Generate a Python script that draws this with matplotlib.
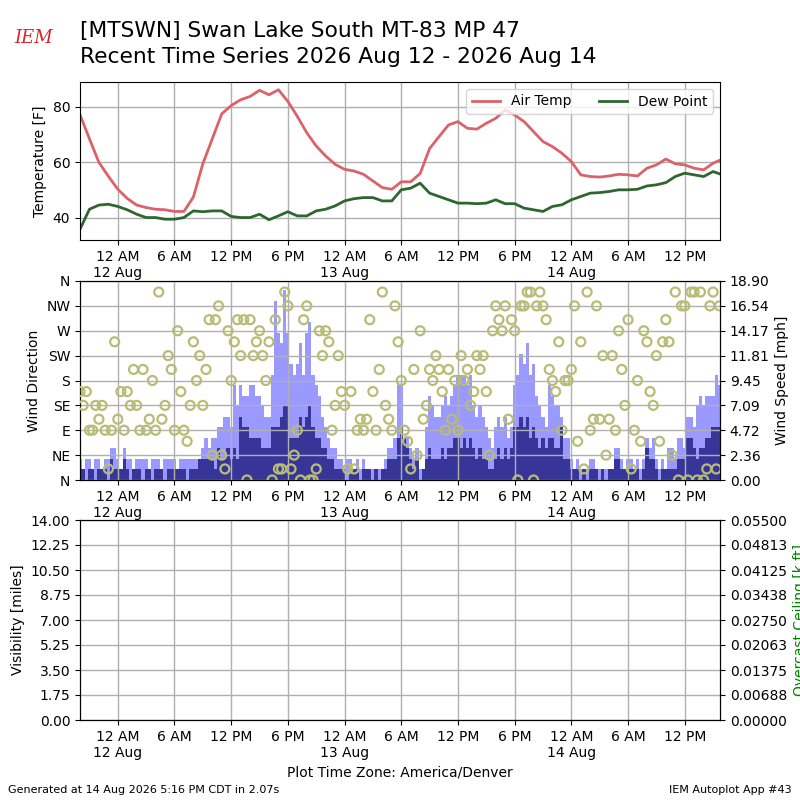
import numpy as np
import pandas as pd
import matplotlib
matplotlib.use("Agg")
import matplotlib.pyplot as plt
import matplotlib.dates as mdates
from matplotlib.ticker import FuncFormatter, FixedLocator, FixedFormatter

# Temperatura cada hora desde 2026-08-11 20:00 (America/Denver)
horas = pd.date_range("2026-08-11 20:00", periods=69, freq="h")
air_temp = [77.2, 68.5, 60.0, 55.0, 50.3, 47.0, 44.6, 43.7, 43.1, 42.9,
            42.3, 42.3, 47.5, 59.5, 68.5, 77.5, 80.5, 82.6, 83.8, 86.0,
            84.4, 86.2, 82.0, 76.6, 70.7, 65.9, 62.3, 59.3, 57.5, 56.9,
            55.7, 53.3, 50.9, 50.3, 53.0, 53.0, 56.0, 65.0, 69.3, 73.5,
            74.7, 72.3, 72.0, 74.1, 75.9, 78.9, 77.1, 74.7, 71.1, 67.5,
            65.7, 63.3, 60.3, 55.5, 54.9, 54.7, 55.1, 55.7, 55.5, 55.1,
            57.9, 59.1, 61.2, 59.5, 59.1, 57.9, 57.3, 59.7, 61.2]
dew_point = [35.9, 43.1, 44.6, 44.9, 44.1, 42.9, 41.3, 40.1, 40.1, 39.5,
             39.5, 40.1, 42.5, 42.2, 42.5, 42.5, 40.5, 40.1, 40.1, 41.3,
             39.3, 40.7, 42.2, 40.7, 40.7, 42.5, 43.1, 44.3, 46.1, 46.9,
             47.3, 47.3, 46.1, 46.1, 50.1, 50.7, 52.5, 48.9, 47.7, 46.5,
             45.3, 45.3, 45.1, 45.3, 46.5, 45.1, 45.1, 43.5, 42.9, 42.3,
             44.1, 44.7, 46.5, 47.7, 48.9, 49.1, 49.5, 50.1, 50.1, 50.3,
             51.5, 51.9, 52.7, 54.9, 56.1, 55.5, 54.9, 56.7, 55.5]

# Viento cada 20 minutos
tiempos = pd.date_range("2026-08-11 20:00", periods=204, freq="20min")
wind_dir = [160, 135, 160, 90, 90, 135, 110, 135, 90, 20,
            90, 250, 110, 160, 90, 160, 135, 200, 135, 90,
            200, 90, 110, 180, 90, 340, 110, 135, 225, 200,
            90, 270, 160, 90, 70, 135, 250, 180, 225, 135,
            200, 290, 45, 290, 315, 45, 20, 270, 180, 250,
            290,
            225, 290, 0, 290, 225, 250, 270, 225, 180, 250,
            0, 290, 20, 20, 340, 315, 20, 45, 90, 0,
            290, 315, 0, 0, 20, 270, 225, 270, 250, 90,
            135, 225, 160, 135, 20, 160, 20, 90, 110, 90,
            110, 290, 160, 90, 200, 340, 135, 110, 90, 315,
            250,
            180, 90, 70, 20, 200, 45, 270, 110, 135, 200,
            180, 225, 200, 160, 90, 200, 110, 180, 90, 225,
            180, 200, 135, 160, 225, 200, 225, 160, 45, 270,
            315, 290, 270, 315, 110, 290, 270, 0, 315, 315,
            340, 340, 0, 315, 340, 315, 290, 200, 180, 160,
            250,
            90, 180, 180, 200, 315, 70, 250, 20, 340, 90,
            110, 315, 110, 225, 45, 110, 225, 90, 270, 200,
            135, 290, 20, 90, 180, 70, 270, 250, 160, 135,
            225, 70, 250, 290, 250, 45, 340, 0, 315, 315,
            0, 340, 340, 0, 340, 0, 20, 315, 340, 20,
            315]
wind_gust = [2, 1, 2, 2, 1, 2, 2, 1, 2, 2, 3, 3, 2, 1, 3, 2, 2, 1, 2, 2,
             2, 2, 1, 2, 2, 2, 1, 2, 2, 2, 2, 1, 2, 2, 2, 2, 2, 2, 2, 3,
             4, 3, 4, 4, 5, 5, 6, 6, 5, 9, 7,
             9, 8, 8, 9, 9, 8, 8, 7, 6, 6, 10, 17, 14, 13, 18, 14, 11, 10, 11, 13,
             10, 14, 15, 10, 9, 8, 6, 5, 4, 3, 3, 2, 2, 1, 2, 2, 1, 2, 1, 2,
             1, 1, 1, 1, 1, 1, 2, 3, 3, 4, 9,
             9, 4, 4, 3, 2, 3, 1, 1, 5, 8, 7, 6, 6, 7, 8, 7, 8, 9, 10, 10,
             10, 9, 10, 7, 6, 7, 6, 5, 4, 3, 5, 6, 5, 6, 4, 5, 9, 10, 12, 11,
             13, 10, 11, 8, 7, 6, 5, 9, 8, 7, 7,
             6, 4, 4, 2, 1, 2, 1, 1, 1, 2, 2, 1, 1, 1, 1, 1, 1, 3, 3, 2,
             1, 2, 2, 1, 2, 1, 2, 4, 3, 4, 2, 1, 2, 1, 3, 3, 2, 4, 4, 3,
             6, 6, 5, 7, 8, 7, 8, 8, 8, 10, 9]
wind_speed = [1, 1, 0, 1, 1, 0, 1, 1, 1, 0, 2, 1, 1, 1, 2, 1, 0, 1, 1, 1,
              0, 1, 1, 0, 1, 1, 1, 0, 1, 1, 1, 1, 1, 1, 0, 1, 1, 1, 2, 2,
              2, 2, 2, 1, 3, 2, 2, 3, 2, 3, 2,
              6, 5, 5, 4, 4, 4, 4, 3, 3, 3, 5, 5, 5, 6, 7, 7, 4, 4, 4, 6,
              5, 6, 7, 5, 4, 4, 3, 3, 2, 2, 1, 1, 1, 1, 0, 1, 1, 1, 0, 1,
              1, 1, 0, 1, 0, 1, 1, 2, 2, 2, 4,
              5, 4, 3, 2, 1, 2, 0, 1, 2, 3, 2, 2, 2, 3, 2, 3, 3, 4, 4, 3,
              4, 3, 4, 3, 2, 3, 2, 2, 1, 1, 2, 3, 2, 3, 2, 3, 5, 5, 6, 5,
              6, 4, 5, 4, 3, 4, 3, 4, 4, 3, 3,
              5, 2, 2, 1, 1, 1, 0, 1, 0, 1, 1, 1, 0, 1, 0, 1, 1, 2, 2, 1,
              1, 1, 1, 1, 1, 0, 1, 3, 2, 2, 1, 0, 1, 1, 1, 1, 1, 2, 2, 2,
              4, 4, 3, 2, 3, 3, 4, 4, 5, 5, 5]

dir_labels = ["N", "NE", "E", "SE", "S", "SW", "W", "NW", "N"]
speed_labels = ["0.00", "2.36", "4.72", "7.09", "9.45", "11.81", "14.17",
                "16.54", "18.90"]
ceil_labels = ["0.00000", "0.00688", "0.01375", "0.02063", "0.02750",
               "0.03438", "0.04125", "0.04813", "0.05500"]

titulo1 = "[MTSWN] Swan Lake South MT-83 MP 47"
titulo2 = "Recent Time Series 2026 Aug 12 - 2026 Aug 14"


def etiqueta_hora(x, pos=None):
    d = mdates.num2date(x)
    h = d.hour
    txt = "%d %s" % ((h % 12) or 12, "AM" if h < 12 else "PM")
    if h == 0:
        txt += "\n" + d.strftime("%d %b")
    return txt


def ejes_tiempo(ax):
    ax.xaxis.set_major_locator(mdates.HourLocator(byhour=[0, 6, 12, 18]))
    ax.xaxis.set_major_formatter(FuncFormatter(etiqueta_hora))
    ax.set_xlim(tiempos[0], tiempos[-1] + pd.Timedelta(minutes=4))
    ax.grid(True, color="#b0b0b0", linewidth=1)


fig = plt.figure(figsize=(8, 8), dpi=100)

# Temperatura
ax1 = fig.add_axes([0.1, 0.7, 0.8, 0.1975])
ax1.plot(horas, air_temp, color="#dc626a", lw=2, label="Air Temp")
ax1.plot(horas, dew_point, color="#2f6630", lw=2, label="Dew Point")
ax1.set_ylim(32, 89)
ax1.set_yticks([40, 60, 80])
ax1.set_ylabel("Temperature [F]")
ejes_tiempo(ax1)
ax1.legend(loc="upper right", ncol=2)

# Viento
ax2 = fig.add_axes([0.1, 0.4, 0.8, 0.24875])
ax2r = ax2.twinx()
ancho = 20 / 1440.0
ax2r.bar(tiempos, wind_gust, width=ancho, color="#9999ff", align="center")
ax2r.bar(tiempos, wind_speed, width=ancho, color="#373698", align="center")
tope = max(wind_gust) * 1.05
ax2r.set_ylim(0, tope)
ax2r.yaxis.set_major_locator(FixedLocator(np.linspace(0, tope, 9)))
ax2r.yaxis.set_major_formatter(FixedFormatter(speed_labels))
ax2r.set_ylabel("Wind Speed [mph]")
ax2.set_zorder(ax2r.get_zorder() + 1)
ax2.patch.set_visible(False)
ax2.scatter(tiempos, wind_dir, s=42, facecolor="none", edgecolor="#b8bc74",
            linewidths=1.6, zorder=4)
ax2.set_ylim(0, 360)
ax2.set_yticks(range(0, 361, 45))
ax2.set_yticklabels(dir_labels)
ax2.set_ylabel("Wind Direction")
ejes_tiempo(ax2)
ax2r.set_xlim(ax2.get_xlim())

# Visibilidad / techo
ax3 = fig.add_axes([0.1, 0.1, 0.8, 0.25])
ax3.set_ylim(0, 14)
ax3.set_yticks(np.arange(0, 14.01, 1.75))
ax3.yaxis.set_major_formatter(FuncFormatter(lambda v, p: "%.2f" % v))
ax3.set_ylabel("Visibility [miles]")
ejes_tiempo(ax3)
ax3.set_xlabel("Plot Time Zone: America/Denver")
ax3r = ax3.twinx()
ax3r.set_ylim(0, 0.055)
ax3r.yaxis.set_major_locator(FixedLocator(np.linspace(0, 0.055, 9)))
ax3r.yaxis.set_major_formatter(FixedFormatter(ceil_labels))
ax3r.set_ylabel("Overcast Ceiling [k ft]", color="g")

# Titulos y pie
fig.text(0.1, 1 - 37 / 800, titulo1, fontsize=15.7, va="baseline")
fig.text(0.1, 1 - 63 / 800, titulo2, fontsize=15.7, va="baseline")
fig.text(0.018, 0.946, "IEM", color="#d9262b", fontsize=13, style="italic",
         family="serif")
fig.text(0.01, 0.009, "Generated at 14 Aug 2026 5:16 PM CDT in 2.07s", fontsize=8)
fig.text(0.99, 0.009, "IEM Autoplot App #43", fontsize=8, ha="right")

fig.savefig("out.png", dpi=100)
